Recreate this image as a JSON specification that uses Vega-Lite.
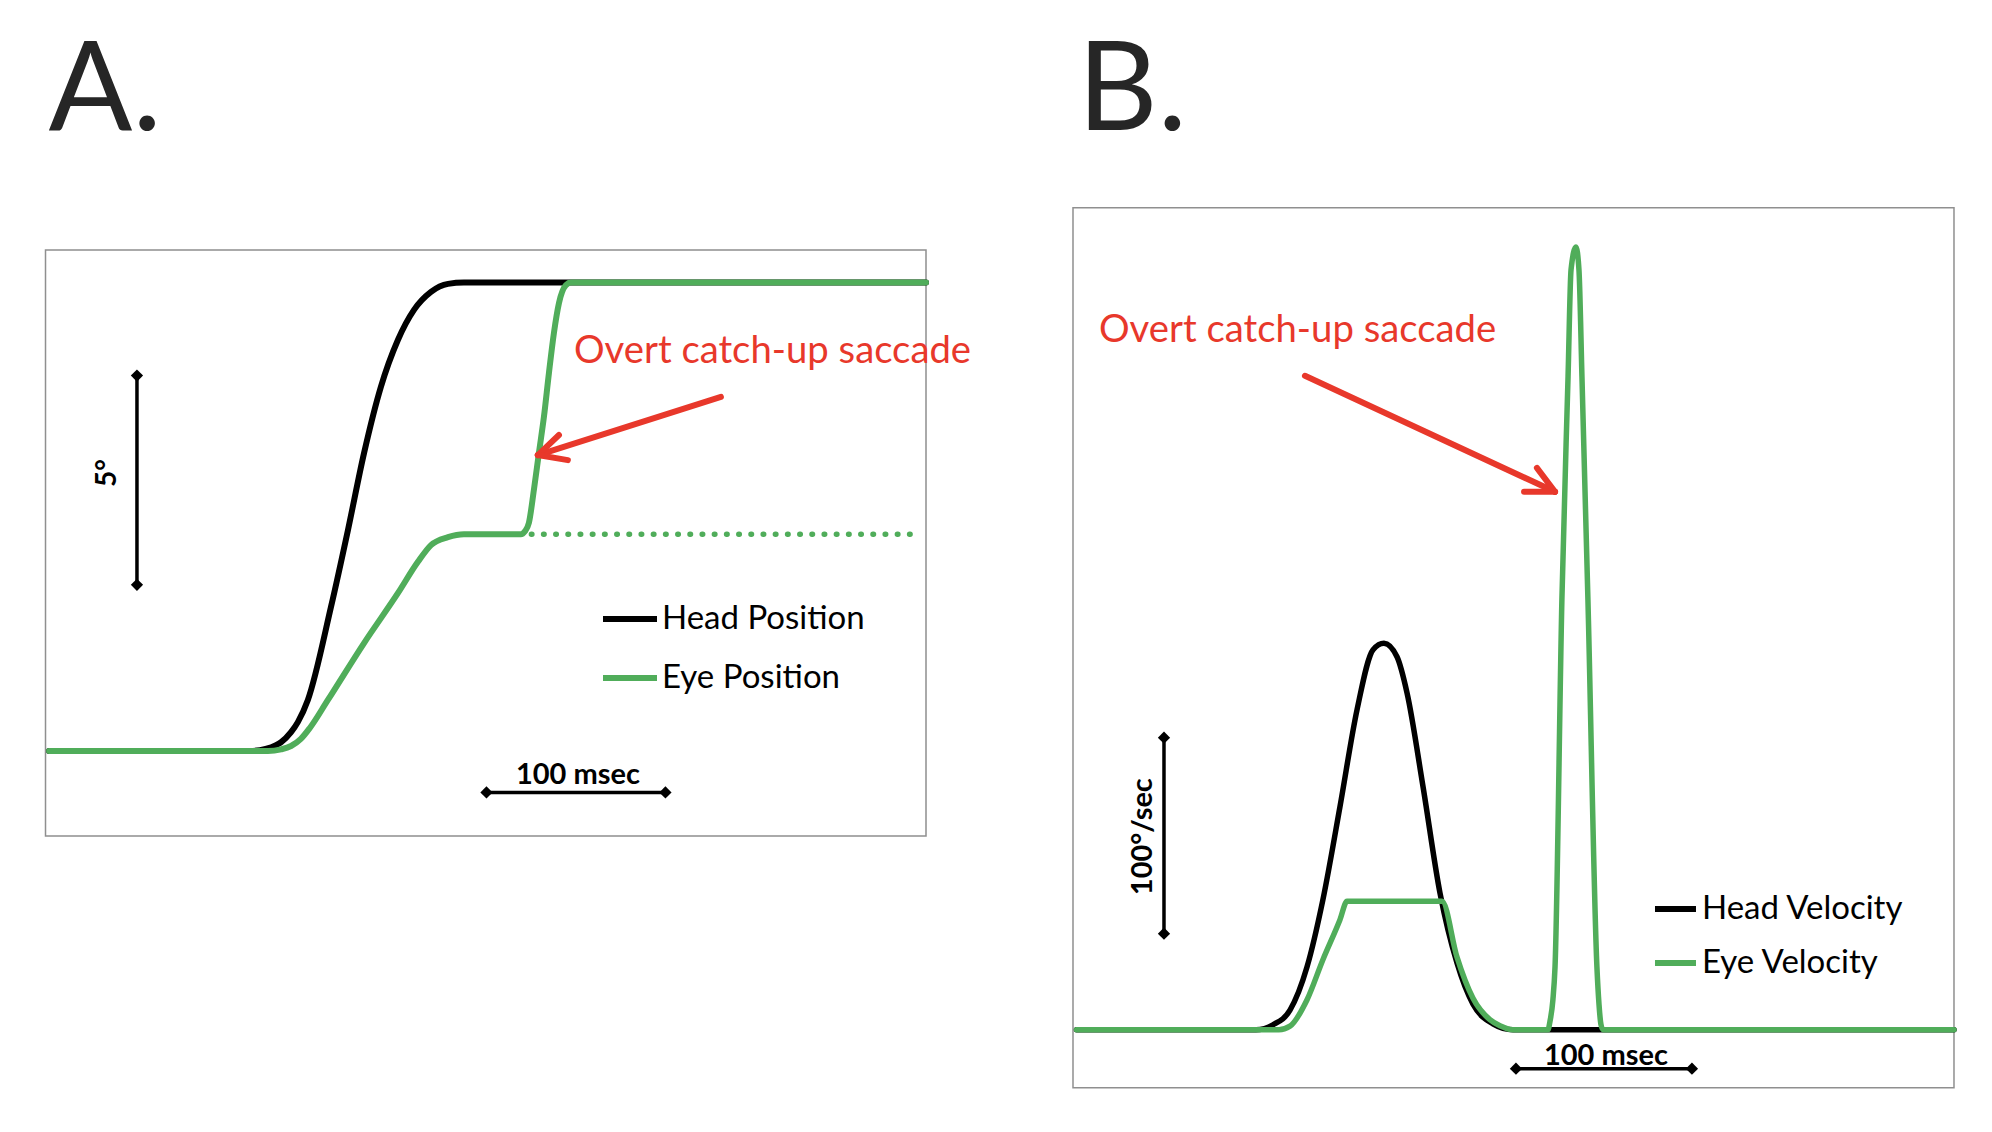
{
  "$schema": "https://vega.github.io/schema/vega-lite/v6.json",
  "background": "white",
  "padding": {"left": 44.5, "top": 29.7, "right": 10, "bottom": 10},
  "spacing": 100.5,
  "config": {
    "view": {"stroke": "#8f8f8f", "strokeWidth": 1.5},
    "font": "Lato",
    "title": {"font": "Lato", "fontSize": 124, "fontWeight": "normal", "color": "#262626", "anchor": "start", "baseline": "alphabetic", "frame": "group"}
  },
  "datasets": {
    "headPosition": [
      {"t": 2, "v": 0, "series": "Head Position"},
      {"t": 114, "v": 0, "series": "Head Position"},
      {"t": 123, "v": 0.05, "series": "Head Position"},
      {"t": 128.8, "v": 0.14, "series": "Head Position"},
      {"t": 131.6, "v": 0.21, "series": "Head Position"},
      {"t": 137.2, "v": 0.45, "series": "Head Position"},
      {"t": 141, "v": 0.69, "series": "Head Position"},
      {"t": 146.6, "v": 1.22, "series": "Head Position"},
      {"t": 159.5, "v": 3.44, "series": "Head Position"},
      {"t": 169, "v": 5.28, "series": "Head Position"},
      {"t": 178, "v": 7.12, "series": "Head Position"},
      {"t": 187.4, "v": 8.7, "series": "Head Position"},
      {"t": 196.9, "v": 9.82, "series": "Head Position"},
      {"t": 205.9, "v": 10.54, "series": "Head Position"},
      {"t": 215.4, "v": 10.97, "series": "Head Position"},
      {"t": 224.9, "v": 11.16, "series": "Head Position"},
      {"t": 233.8, "v": 11.19, "series": "Head Position"},
      {"t": 492, "v": 11.19, "series": "Head Position"}
    ],
    "eyePosition": [
      {"t": 2, "v": 0, "series": "Eye Position"},
      {"t": 124.3, "v": 0, "series": "Eye Position"},
      {"t": 131.6, "v": 0.04, "series": "Eye Position"},
      {"t": 137.2, "v": 0.12, "series": "Eye Position"},
      {"t": 142.7, "v": 0.29, "series": "Eye Position"},
      {"t": 147.7, "v": 0.55, "series": "Eye Position"},
      {"t": 157.8, "v": 1.22, "series": "Eye Position"},
      {"t": 178, "v": 2.58, "series": "Eye Position"},
      {"t": 196.9, "v": 3.77, "series": "Eye Position"},
      {"t": 208.1, "v": 4.52, "series": "Eye Position"},
      {"t": 215.4, "v": 4.92, "series": "Eye Position"},
      {"t": 224.9, "v": 5.11, "series": "Eye Position"},
      {"t": 233.8, "v": 5.18, "series": "Eye Position"},
      {"t": 265.6, "v": 5.18, "series": "Eye Position"},
      {"t": 267.9, "v": 5.25, "series": "Eye Position"},
      {"t": 270.1, "v": 5.45, "series": "Eye Position"},
      {"t": 272.9, "v": 6.24, "series": "Eye Position"},
      {"t": 275.7, "v": 7.12, "series": "Eye Position"},
      {"t": 278.5, "v": 7.98, "series": "Eye Position"},
      {"t": 281.3, "v": 9.03, "series": "Eye Position"},
      {"t": 284.1, "v": 9.99, "series": "Eye Position"},
      {"t": 286.9, "v": 10.7, "series": "Eye Position"},
      {"t": 290.8, "v": 11.13, "series": "Eye Position"},
      {"t": 293.6, "v": 11.19, "series": "Eye Position"},
      {"t": 492, "v": 11.19, "series": "Eye Position"}
    ],
    "eyeNoSaccade": [
      {"t": 271.5, "v": 5.18},
      {"t": 485.7, "v": 5.18}
    ],
    "frameA": [
      {"t": 0, "v": -2.03, "t2": 492, "v2": 11.97}
    ],
    "scaleBarsA": [
      {"t": 51.1, "v": 3.97, "t2": 51.1, "v2": 8.97},
      {"t": 246.4, "v": -0.99, "t2": 346.4, "v2": -0.99}
    ],
    "barEndsA": [
      {"t": 51.1, "v": 3.97},
      {"t": 51.1, "v": 8.97},
      {"t": 246.4, "v": -0.99},
      {"t": 346.4, "v": -0.99}
    ],
    "arrowA": [
      {"t": 377.4, "v": 8.46, "t2": 275.1, "v2": 7.07},
      {"t": 286.9, "v": 7.55, "t2": 275.1, "v2": 7.07},
      {"t": 291.9, "v": 6.95, "t2": 275.1, "v2": 7.07}
    ],
    "headVelocity": [
      {"t": 2, "v": 0, "series": "Head Velocity"},
      {"t": 104, "v": 0, "series": "Head Velocity"},
      {"t": 113.6, "v": 2.5, "series": "Head Velocity"},
      {"t": 123.3, "v": 10, "series": "Head Velocity"},
      {"t": 133, "v": 32.1, "series": "Head Velocity"},
      {"t": 142, "v": 66.3, "series": "Head Velocity"},
      {"t": 151.7, "v": 113.8, "series": "Head Velocity"},
      {"t": 161.4, "v": 163.3, "series": "Head Velocity"},
      {"t": 170.5, "v": 193.9, "series": "Head Velocity"},
      {"t": 176.7, "v": 197.2, "series": "Head Velocity"},
      {"t": 184.1, "v": 190.3, "series": "Head Velocity"},
      {"t": 189.8, "v": 171.9, "series": "Head Velocity"},
      {"t": 198.9, "v": 124, "series": "Head Velocity"},
      {"t": 208.5, "v": 69.9, "series": "Head Velocity"},
      {"t": 218.2, "v": 34, "series": "Head Velocity"},
      {"t": 227.3, "v": 13, "series": "Head Velocity"},
      {"t": 238.6, "v": 3, "series": "Head Velocity"},
      {"t": 250, "v": 0, "series": "Head Velocity"},
      {"t": 500.6, "v": 0, "series": "Head Velocity"}
    ],
    "eyeVelocity": [
      {"t": 2, "v": 0, "series": "Eye Velocity"},
      {"t": 117, "v": 0, "series": "Eye Velocity"},
      {"t": 123.3, "v": 1.8, "series": "Eye Velocity"},
      {"t": 133, "v": 15.3, "series": "Eye Velocity"},
      {"t": 142, "v": 35.7, "series": "Eye Velocity"},
      {"t": 151.7, "v": 56.1, "series": "Eye Velocity"},
      {"t": 155.7, "v": 65.5, "series": "Eye Velocity"},
      {"t": 209.7, "v": 65.5, "series": "Eye Velocity"},
      {"t": 218.2, "v": 37, "series": "Eye Velocity"},
      {"t": 227.3, "v": 16, "series": "Eye Velocity"},
      {"t": 236.9, "v": 5.1, "series": "Eye Velocity"},
      {"t": 242.6, "v": 2, "series": "Eye Velocity"},
      {"t": 250, "v": 0, "series": "Eye Velocity"},
      {"t": 269.9, "v": 0, "series": "Eye Velocity"},
      {"t": 271, "v": 4.1, "series": "Eye Velocity"},
      {"t": 272.7, "v": 15.3, "series": "Eye Velocity"},
      {"t": 273.9, "v": 32.1, "series": "Eye Velocity"},
      {"t": 277.8, "v": 219.4, "series": "Eye Velocity"},
      {"t": 281.3, "v": 333.2, "series": "Eye Velocity"},
      {"t": 283, "v": 387.8, "series": "Eye Velocity"},
      {"t": 285.8, "v": 399.5, "series": "Eye Velocity"},
      {"t": 287.5, "v": 387.8, "series": "Eye Velocity"},
      {"t": 289.2, "v": 333.2, "series": "Eye Velocity"},
      {"t": 292.6, "v": 219.4, "series": "Eye Velocity"},
      {"t": 297.7, "v": 32.1, "series": "Eye Velocity"},
      {"t": 298.9, "v": 12.8, "series": "Eye Velocity"},
      {"t": 300, "v": 2.6, "series": "Eye Velocity"},
      {"t": 301.1, "v": 0, "series": "Eye Velocity"},
      {"t": 500.6, "v": 0, "series": "Eye Velocity"}
    ],
    "scaleBarsB": [
      {"t": 51.7, "v": 49, "t2": 51.7, "v2": 149},
      {"t": 251.7, "v": -19.9, "t2": 351.7, "v2": -19.9}
    ],
    "barEndsB": [
      {"t": 51.7, "v": 49},
      {"t": 51.7, "v": 149},
      {"t": 251.7, "v": -19.9},
      {"t": 351.7, "v": -19.9}
    ],
    "arrowB": [
      {"t": 131.8, "v": 333.7, "t2": 273.9, "v2": 274.5},
      {"t": 263.6, "v": 286.7, "t2": 273.9, "v2": 274.5},
      {"t": 256.3, "v": 274.5, "t2": 273.9, "v2": 274.5}
    ]
  },
  "hconcat": [
    {
      "width": 880.5,
      "height": 628.3,
      "view": {"stroke": null},
      "title": {"text": "A.", "offset": 52, "dx": 3},
      "encoding": {
        "x": {"field": "t", "type": "quantitative", "scale": {"domain": [0, 492], "nice": false, "zero": false}, "axis": null},
        "y": {"field": "v", "type": "quantitative", "scale": {"domain": [-2.03, 12.98], "nice": false, "zero": false}, "axis": null}
      },
      "layer": [
        {
          "data": {"name": "frameA"},
          "mark": {"type": "rect", "fill": null, "stroke": "#8f8f8f", "strokeWidth": 1.5},
          "encoding": {"x2": {"field": "t2"}, "y2": {"field": "v2"}}
        },
        {
          "data": {"name": "eyeNoSaccade"},
          "mark": {"type": "line", "color": "#50AD5A", "strokeWidth": 5.5, "strokeCap": "round", "strokeDash": [0.5, 11.7]}
        },
        {
          "data": {"name": "headPosition"},
          "mark": {"type": "line", "interpolate": "monotone", "strokeWidth": 6, "strokeCap": "round", "strokeJoin": "round"},
          "encoding": {
            "color": {"field": "series", "type": "nominal",
              "scale": {"domain": ["Head Position", "Eye Position"], "range": ["#000000", "#50AD5A"]},
              "legend": {"title": null, "orient": "none", "legendX": 554.5, "legendY": 381.3, "symbolType": "stroke", "symbolSize": 2916, "symbolStrokeWidth": 6, "labelFont": "Lato", "labelFontSize": 33, "labelColor": "#000000", "labelOffset": 2, "labelLimit": 0, "rowPadding": 12, "padding": 0}}
          }
        },
        {
          "data": {"name": "eyePosition"},
          "mark": {"type": "line", "interpolate": "monotone", "strokeWidth": 6, "strokeCap": "round", "strokeJoin": "round"},
          "encoding": {
            "color": {"field": "series", "type": "nominal",
              "scale": {"domain": ["Head Position", "Eye Position"], "range": ["#000000", "#50AD5A"]}}
          }
        },
        {
          "data": {"name": "scaleBarsA"},
          "mark": {"type": "rule", "color": "#000000", "strokeWidth": 3.5},
          "encoding": {"x2": {"field": "t2"}, "y2": {"field": "v2"}}
        },
        {
          "data": {"name": "barEndsA"},
          "mark": {"type": "point", "shape": "diamond", "filled": true, "size": 150, "color": "#000000", "opacity": 1}
        },
        {
          "data": {"name": "arrowA"},
          "mark": {"type": "rule", "color": "#E8382B", "strokeWidth": 6, "strokeCap": "round"},
          "encoding": {"x2": {"field": "t2"}, "y2": {"field": "v2"}}
        },
        {
          "data": {"values": [{"t": 295.3, "v": 9.27, "label": "Overt catch-up saccade"}]},
          "mark": {"type": "text", "font": "Lato", "fontSize": 38.3, "color": "#E8382B", "align": "left", "baseline": "alphabetic"},
          "encoding": {"text": {"field": "label"}}
        },
        {
          "data": {"values": [{"t": 34.9, "v": 6.64, "label": "5°"}]},
          "mark": {"type": "text", "font": "Lato", "fontSize": 28, "fontWeight": "bold", "color": "#000000", "align": "center", "baseline": "middle", "angle": 270},
          "encoding": {"text": {"field": "label"}}
        },
        {
          "data": {"values": [{"t": 297.5, "v": -0.79, "label": "100 msec"}]},
          "mark": {"type": "text", "font": "Lato", "fontSize": 29, "fontWeight": "bold", "color": "#000000", "align": "center", "baseline": "alphabetic"},
          "encoding": {"text": {"field": "label"}}
        }
      ]
    },
    {
      "width": 881,
      "height": 880,
      "title": {"text": "B.", "offset": 52, "dx": 4.5},
      "encoding": {
        "x": {"field": "t", "type": "quantitative", "scale": {"domain": [0, 500.6], "nice": false, "zero": false}, "axis": null},
        "y": {"field": "v", "type": "quantitative", "scale": {"domain": [-29.6, 419.5], "nice": false, "zero": false}, "axis": null}
      },
      "layer": [
        {
          "data": {"name": "headVelocity"},
          "mark": {"type": "line", "interpolate": "monotone", "strokeWidth": 5.5, "strokeCap": "round", "strokeJoin": "round"},
          "encoding": {
            "color": {"field": "series", "type": "nominal",
              "scale": {"domain": ["Head Velocity", "Eye Velocity"], "range": ["#000000", "#50AD5A"]},
              "legend": {"title": null, "orient": "none", "legendX": 579, "legendY": 677.7, "symbolType": "stroke", "symbolSize": 1681, "symbolStrokeWidth": 6, "labelFont": "Lato", "labelFontSize": 33, "labelColor": "#000000", "labelOffset": 3, "labelLimit": 0, "rowPadding": 13, "padding": 0}}
          }
        },
        {
          "data": {"name": "eyeVelocity"},
          "mark": {"type": "line", "interpolate": "monotone", "strokeWidth": 5.5, "strokeCap": "round", "strokeJoin": "round"},
          "encoding": {
            "color": {"field": "series", "type": "nominal",
              "scale": {"domain": ["Head Velocity", "Eye Velocity"], "range": ["#000000", "#50AD5A"]}}
          }
        },
        {
          "data": {"name": "scaleBarsB"},
          "mark": {"type": "rule", "color": "#000000", "strokeWidth": 3.5},
          "encoding": {"x2": {"field": "t2"}, "y2": {"field": "v2"}}
        },
        {
          "data": {"name": "barEndsB"},
          "mark": {"type": "point", "shape": "diamond", "filled": true, "size": 150, "color": "#000000", "opacity": 1}
        },
        {
          "data": {"name": "arrowB"},
          "mark": {"type": "rule", "color": "#E8382B", "strokeWidth": 6, "strokeCap": "round"},
          "encoding": {"x2": {"field": "t2"}, "y2": {"field": "v2"}}
        },
        {
          "data": {"values": [{"t": 14.8, "v": 351, "label": "Overt catch-up saccade"}]},
          "mark": {"type": "text", "font": "Lato", "fontSize": 38.3, "color": "#E8382B", "align": "left", "baseline": "alphabetic"},
          "encoding": {"text": {"field": "label"}}
        },
        {
          "data": {"values": [{"t": 39.8, "v": 98.5, "label": "100°/sec"}]},
          "mark": {"type": "text", "font": "Lato", "fontSize": 29, "fontWeight": "bold", "color": "#000000", "align": "center", "baseline": "middle", "angle": 270},
          "encoding": {"text": {"field": "label"}}
        },
        {
          "data": {"values": [{"t": 302.8, "v": -17.9, "label": "100 msec"}]},
          "mark": {"type": "text", "font": "Lato", "fontSize": 29, "fontWeight": "bold", "color": "#000000", "align": "center", "baseline": "alphabetic"},
          "encoding": {"text": {"field": "label"}}
        }
      ]
    }
  ],
  "resolve": {"scale": {"color": "independent"}}
}
